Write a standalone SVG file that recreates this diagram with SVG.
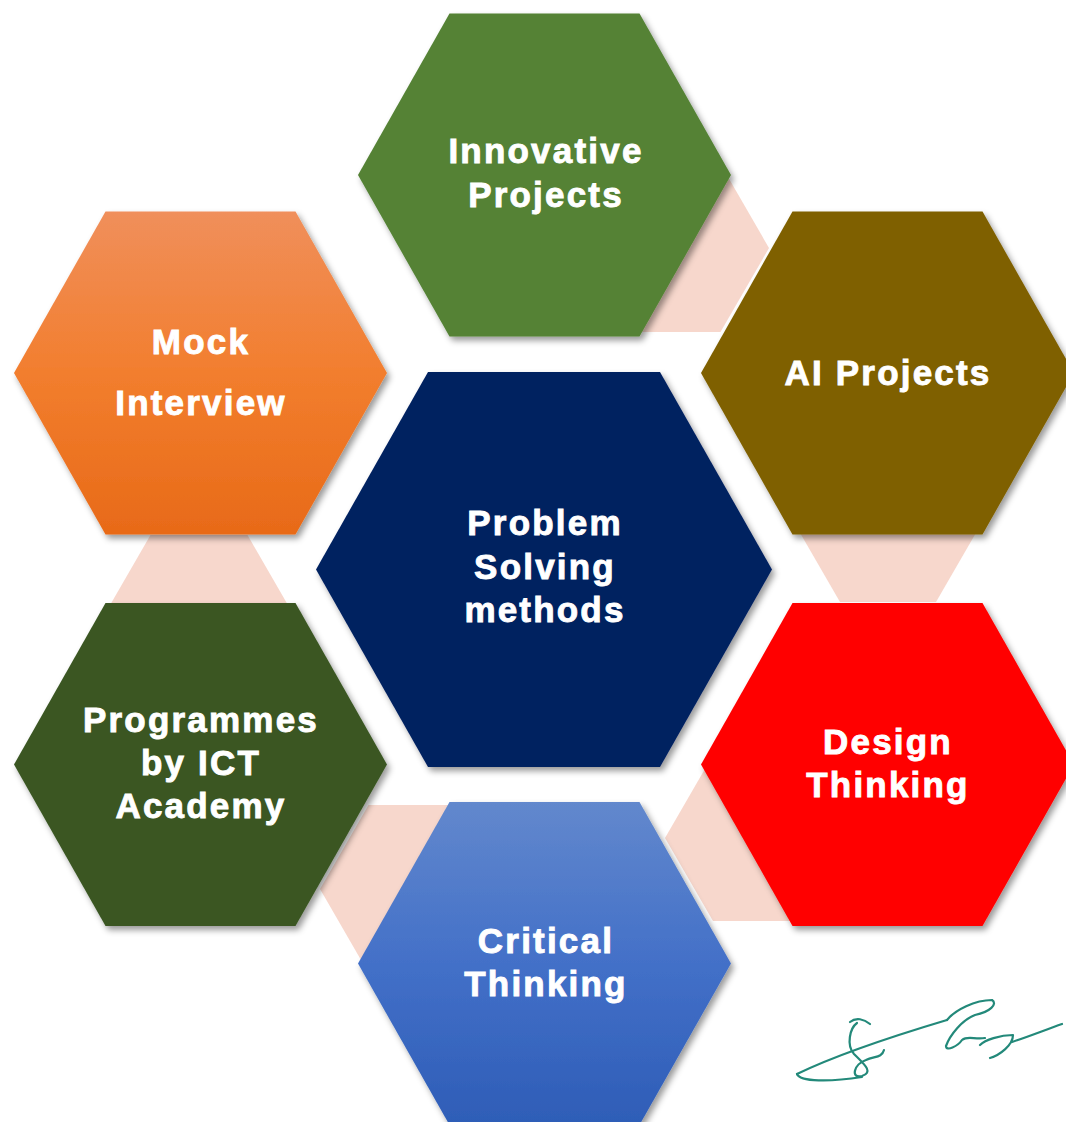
<svg xmlns="http://www.w3.org/2000/svg" width="1066" height="1122" viewBox="0 0 1066 1122">
<style>
.lbl{font-family:"Liberation Sans",Arial,sans-serif;font-weight:bold;font-size:35px;fill:#ffffff;stroke:#ffffff;stroke-width:0.9px;text-anchor:middle;letter-spacing:2.2px}
.link{fill:#F7D7CC}
.hex{filter:url(#sh)}
.sig{fill:none;stroke:#23897A;stroke-width:2.2;stroke-linecap:round;stroke-linejoin:round}
</style>
<defs>
<filter id="sh" x="-10%" y="-10%" width="125%" height="125%">
<feDropShadow dx="3" dy="4" stdDeviation="3" flood-color="#000" flood-opacity="0.4"/>
</filter>
<linearGradient id="gOrange" x1="0" y1="0" x2="0" y2="1">
<stop offset="0" stop-color="#F08F5B"/>
<stop offset="0.5" stop-color="#F27E2E"/>
<stop offset="1" stop-color="#E86A18"/>
</linearGradient>
<linearGradient id="gBlue" x1="0" y1="0" x2="0" y2="1">
<stop offset="0" stop-color="#6288CD"/>
<stop offset="0.5" stop-color="#4370C8"/>
<stop offset="1" stop-color="#2E5DB7"/>
</linearGradient>
</defs>
<rect width="1066" height="1122" fill="#ffffff"/>
<g id="connectors">
<polygon class="link" points="575,248 623.5,164 720.5,164 769,248 720.5,332 623.5,332"/>
<polygon class="link" points="792,519 840,436 936,436 984,519 936,602 840,602"/>
<polygon class="link" points="665,838 713,755 809,755 857,838 809,921 713,921"/>
<polygon class="link" points="320,889 368.5,805 465.5,805 514,889 465.5,973 368.5,973"/>
<polygon class="link" points="102,619 150.5,535 247.5,535 296,619 247.5,703 150.5,703"/>
</g>
<g id="node-center">
<polygon class="hex" fill="#002060" points="316,569.5 428,372 660,372 772,569.5 660,767 428,767"/>
<text class="lbl" x="545" y="535">Problem</text>
<text class="lbl" x="545" y="579">Solving</text>
<text class="lbl" x="545" y="622">methods</text>
</g>
<g id="node-innovative">
<polygon class="hex" fill="#548235" points="358,175 449.5,13.5 639.5,13.5 731,175 639.5,336.5 449.5,336.5"/>
<text class="lbl" x="546" y="163">Innovative</text>
<text class="lbl" x="546" y="207">Projects</text>
</g>
<g id="node-ai">
<polygon class="hex" fill="#7F6000" points="701,373 792.5,211.5 982.5,211.5 1074,373 982.5,534.5 792.5,534.5"/>
<text class="lbl" x="888" y="385">AI Projects</text>
</g>
<g id="node-design">
<polygon class="hex" fill="#FF0000" points="701,764.5 792.5,603 982.5,603 1074,764.5 982.5,926 792.5,926"/>
<text class="lbl" x="888" y="754">Design</text>
<text class="lbl" x="888" y="797">Thinking</text>
</g>
<g id="node-critical">
<polygon class="hex" fill="url(#gBlue)" points="358,963.5 449.5,802 639.5,802 731,963.5 639.5,1125 449.5,1125"/>
<text class="lbl" x="546" y="953">Critical</text>
<text class="lbl" x="546" y="996">Thinking</text>
</g>
<g id="node-programmes">
<polygon class="hex" fill="#3A5724" points="14,764.5 105.5,603 295.5,603 387,764.5 295.5,926 105.5,926"/>
<text class="lbl" x="201" y="732">Programmes</text>
<text class="lbl" x="201" y="775">by ICT</text>
<text class="lbl" x="201" y="818">Academy</text>
</g>
<g id="node-mock">
<polygon class="hex" fill="url(#gOrange)" points="14,373 105.5,211.5 295.5,211.5 387,373 295.5,534.5 105.5,534.5"/>
<text class="lbl" x="201" y="354">Mock</text>
<text class="lbl" x="201" y="415">Interview</text>
</g>
<g id="signature">
<path class="sig" d="M797,1074 C830,1058 880,1040 947,1020"/>
<path class="sig" d="M797,1074 C800,1082 830,1082 862,1077"/>
<path class="sig" d="M857,1023 C850,1028 846,1045 854,1054 C864,1064 874,1072 862,1076 C850,1079 854,1064 866,1060 C874,1056 882,1058 884,1050"/>
<path class="sig" d="M850,1022 C856,1017 864,1019 870,1024"/>
<path class="sig" d="M947,1020 C955,1010 975,1000 992,1000 C998,1004 990,1012 975,1015 C962,1020 950,1035 946,1046 C946,1052 958,1046 962,1040 C968,1035 975,1040 985,1038"/>
<path class="sig" d="M980,1045 C985,1040 1000,1035 1013,1035 C1013,1045 1000,1055 990,1058 M1012,1042 C1030,1036 1045,1030 1062,1024"/>
</g>
</svg>
